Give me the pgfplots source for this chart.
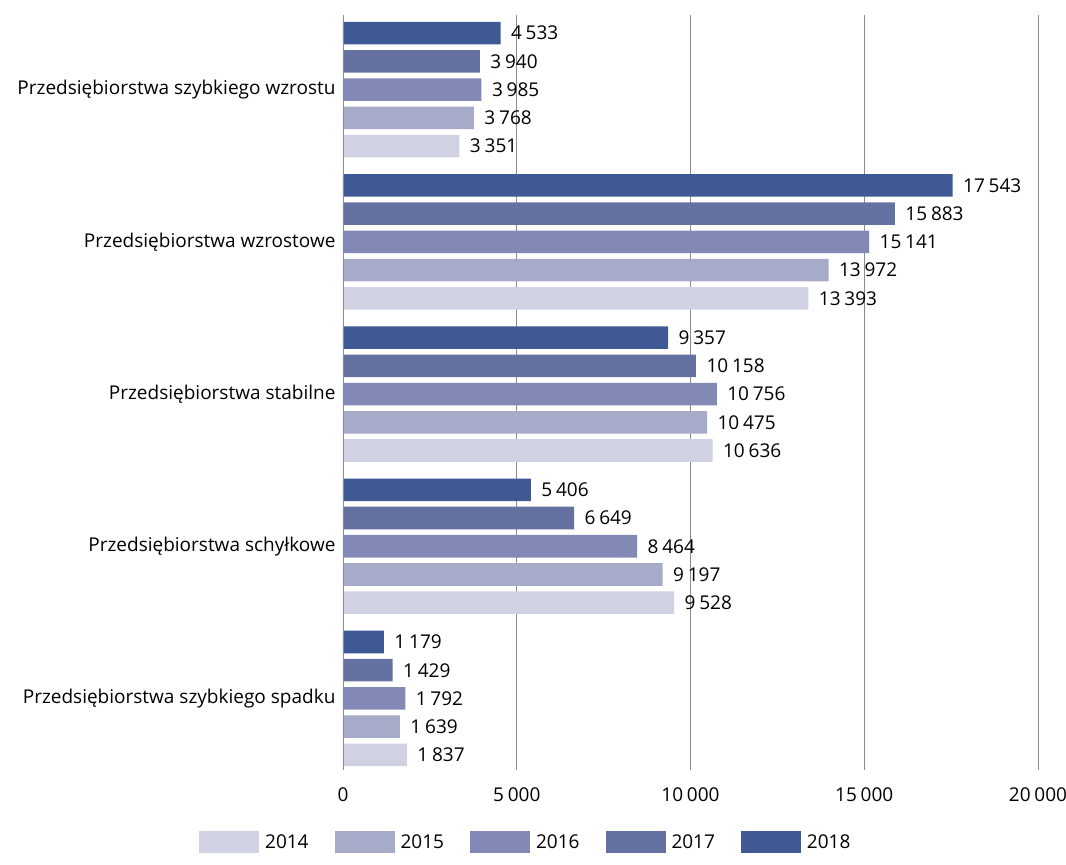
\documentclass[border=0pt]{standalone}
\usepackage{fontspec}
\setmainfont{Open Sans}
\usepackage{pgfplots}
\pgfplotsset{compat=1.18}
\definecolor{c2014}{HTML}{D0D1E3}
\definecolor{c2015}{HTML}{A7ABCA}
\definecolor{c2016}{HTML}{8389B5}
\definecolor{c2017}{HTML}{6471A1}
\definecolor{c2018}{HTML}{3E5994}
\definecolor{gridc}{HTML}{8C8C8C}

\begin{document}
\begin{tikzpicture}[x=1pt,y=1pt]
\begin{axis}[
  at={(0,0)}, anchor=south west,
  scale only axis,
  width=695pt, height=755pt,
  xbar,
  xmin=0, xmax=20000,
  ymin=-0.49, ymax=4.47,
  y dir=reverse,
  bar width=0.148,
  axis line style={draw=none},
  xtick={0,5000,10000,15000,20000},
  ytick={0,1,2,3,4},
  yticklabels={Przedsiębiorstwa szybkiego wzrostu,Przedsiębiorstwa wzrostowe,Przedsiębiorstwa stabilne,Przedsiębiorstwa schyłkowe,Przedsiębiorstwa szybkiego spadku},
  major tick length=0pt,
  xmajorgrids,
  grid style={gridc, line width=0.9pt},
  tick label style={font=\fontsize{19}{22}\selectfont},
  xticklabel style={yshift=-14pt},
  yticklabel style={anchor=east, xshift=-4pt},
  scaled x ticks=false,
  /pgf/number format/.cd, 1000 sep={\hspace{0.2em}}, assume math mode=true,
  /pgfplots/.cd,
  nodes near coords,
  nodes near coords style={anchor=west, xshift=7pt, font=\fontsize{19}{22}\selectfont, text=black},
  legend columns=5,
  legend style={at={(0.263,-0.0954)}, anchor=center, draw=none,
    font=\fontsize{19}{22}\selectfont,
    /tikz/every even column/.append style={column sep=24pt}},
  legend image code/.code={\fill[#1] (0pt,-11pt) rectangle (60pt,11pt);\path (64pt,0pt);},
]
\addplot[fill=c2014, draw=none, bar shift=0.371] coordinates {(3351,0) (13393,1) (10636,2) (9528,3) (1837,4)};
\addplot[fill=c2015, draw=none, bar shift=0.1855] coordinates {(3768,0) (13972,1) (10475,2) (9197,3) (1639,4)};
\addplot[fill=c2016, draw=none, bar shift=0] coordinates {(3985,0) (15141,1) (10756,2) (8464,3) (1792,4)};
\addplot[fill=c2017, draw=none, bar shift=-0.1855] coordinates {(3940,0) (15883,1) (10158,2) (6649,3) (1429,4)};
\addplot[fill=c2018, draw=none, bar shift=-0.371] coordinates {(4533,0) (17543,1) (9357,2) (5406,3) (1179,4)};
\legend{2014,2015,2016,2017,2018}
\draw[gridc, line width=0.9pt] (axis cs:0,-0.49) -- (axis cs:0,4.47);
\end{axis}
\pgfresetboundingbox
\path[use as bounding box] (-343,-95) rectangle (723,770);
\end{tikzpicture}
\end{document}
